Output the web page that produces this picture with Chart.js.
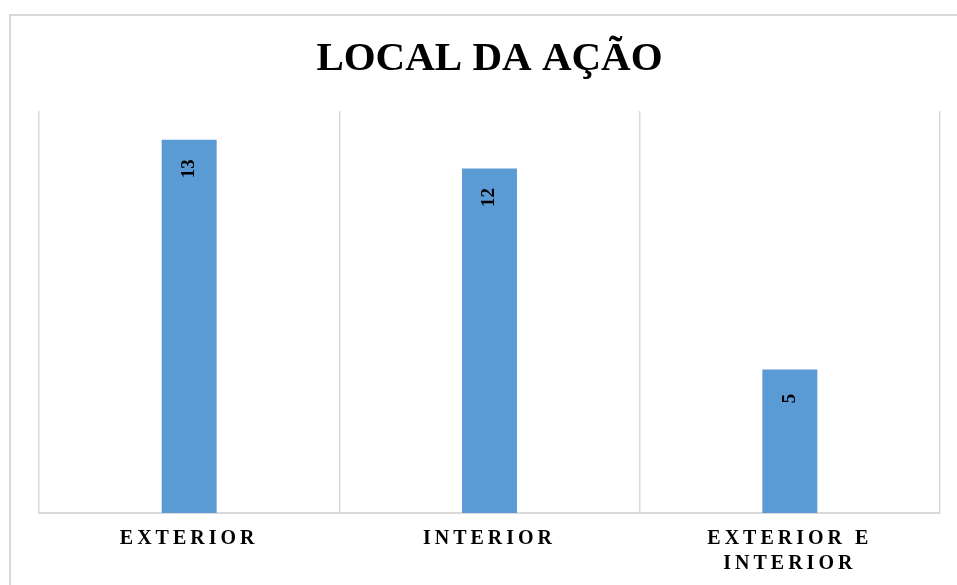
<!DOCTYPE html>
<html>
<head>
<meta charset="utf-8">
<script src="https://cdn.jsdelivr.net/npm/chart.js@4/dist/chart.umd.min.js"></script>
<style>
  html, body { margin: 0; padding: 0; background: #fff; overflow: hidden; }
  #frame {
    position: absolute; left: 9px; top: 14px;
    width: 1000px; height: 700px;
    border: 2px solid #d9d9d9; box-sizing: border-box;
  }
  #wrap { position: absolute; left: 0; top: 0; width: 957px; height: 585px; }
</style>
</head>
<body>
<div id="frame"></div>
<div id="wrap"><canvas id="chart"></canvas></div>
<script>
const titleText = "LOCAL DA AÇÃO";
const categories = ["EXTERIOR", "INTERIOR", ["EXTERIOR E", "INTERIOR"]];
const values = [13, 12, 5];
const yMax = 14;

const barColor = "#5b9bd5";
const gridColor = "#d9d9d9";
const serif = "'Liberation Serif', 'Times New Roman', serif";

// letter spacing: title plain, tick labels spread (ticks drawn after datasets, z = 1)
const spacing = {
    id: "spacing",
    beforeDraw(chart) { chart.ctx.letterSpacing = "0px"; },
    afterDatasetsDraw(chart) {
        const ctx = chart.ctx;
        const meta = chart.getDatasetMeta(0);
        ctx.save();
        ctx.letterSpacing = "0px";
        ctx.fillStyle = "#000";
        ctx.font = "bold 19px " + serif;
        ctx.textAlign = "center";
        ctx.textBaseline = "middle";
        meta.data.forEach((bar, i) => {
            ctx.save();
            ctx.translate(bar.x, bar.y + 29);
            ctx.rotate(-Math.PI / 2);
            ctx.fillText(String(values[i]), 0, 0);
            ctx.restore();
        });
        ctx.restore();
        ctx.letterSpacing = "4px";
    },
    afterDraw(chart) { chart.ctx.letterSpacing = "0px"; }
};

new Chart(document.getElementById("chart"), {
    type: "bar",
    data: {
        labels: categories,
        datasets: [{
            data: values,
            backgroundColor: barColor,
            borderWidth: 0,
            categoryPercentage: 1,
            barPercentage: 0.183
        }]
    },
    options: {
        responsive: true,
        maintainAspectRatio: false,
        animation: false,
        layout: { padding: { left: 39, right: 17, top: 0, bottom: -4 } },
        plugins: {
            legend: { display: false },
            tooltip: { enabled: false },
            title: {
                display: true,
                text: titleText,
                color: "#000",
                font: { family: serif, size: 41, weight: "bold", lineHeight: 1.2 },
                padding: { top: 35, bottom: 26.8 }
            }
        },
        scales: {
            x: {
                grid: { color: gridColor, lineWidth: 1.5, drawTicks: false, offset: true },
                border: { color: gridColor, width: 2 },
                ticks: {
                    z: 1,
                    color: "#000",
                    padding: 13,
                    maxRotation: 0,
                    autoSkip: false,
                    font: { family: serif, size: 20, weight: "bold", lineHeight: 1.25 }
                }
            },
            y: {
                display: false,
                min: 0,
                max: yMax
            }
        }
    },
    plugins: [spacing]
});
</script>
</body>
</html>
